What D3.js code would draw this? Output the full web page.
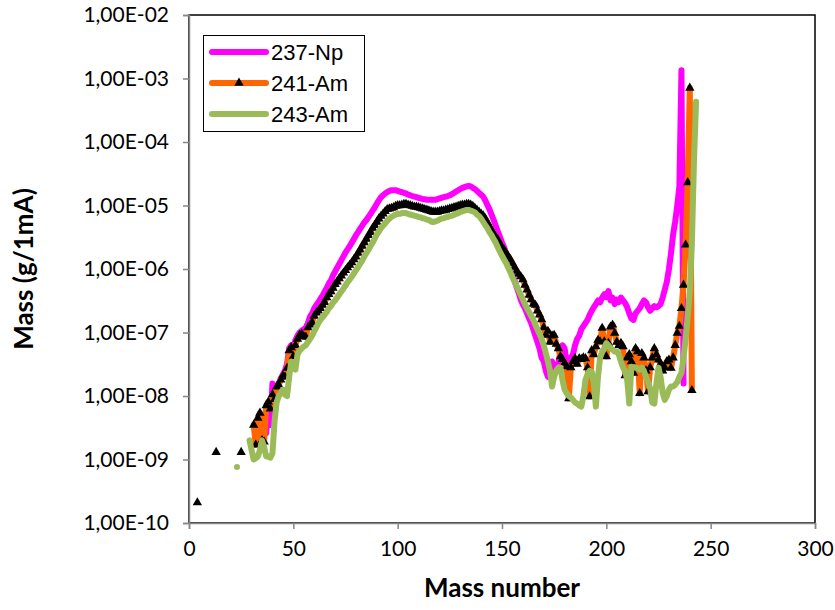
<!DOCTYPE html>
<html><head><meta charset="utf-8">
<script src="https://cdn.jsdelivr.net/npm/d3@7"></script>
<style>body{margin:0;background:#fff}svg{display:block}</style>
</head><body><svg id="chart" width="835" height="610"></svg>
<script>
// ---------- data ----------
const xTickValues = [0, 50, 100, 150, 200, 250, 300];
const yTickValues = [1e-10, 1e-9, 1e-8, 1e-7, 1e-6, 1e-5, 1e-4, 1e-3, 1e-2];
const yTickLabels = ["1,00E-10","1,00E-09","1,00E-08","1,00E-07","1,00E-06","1,00E-05","1,00E-04","1,00E-03","1,00E-02"];
const seriesNames = ["237-Np", "241-Am", "243-Am"];

// 237-Np: one value per mass number starting at np237Start
const np237Start = 33;
const np237Values = [
 2.8e-9, 4.5e-9, 3.5e-9, 2.5e-9, 2.6e-9, 6.3e-9, 3.5e-9, 1.58e-8, 1.0e-8, 1.41e-8,
 1.58e-8, 1.9e-8, 2.2e-8, 2.5e-8, 3.2e-8, 5.6e-8, 6.3e-8, 5.6e-8, 7.6e-8, 8.9e-8,
 1.0e-7, 1.07e-7, 1.12e-7, 1.2e-7, 1.41e-7, 1.78e-7, 2.0e-7, 2.4e-7, 2.7e-7, 3.0e-7,
 3.4e-7, 3.8e-7, 4.4e-7, 5.0e-7, 5.9e-7, 6.6e-7, 7.9e-7, 9.1e-7, 1.05e-6, 1.2e-6,
 1.38e-6, 1.58e-6, 1.82e-6, 2.04e-6, 2.3e-6, 2.6e-6, 2.95e-6, 3.4e-6, 3.8e-6, 4.3e-6,
 4.8e-6, 5.4e-6, 5.9e-6, 6.6e-6, 7.4e-6, 8.3e-6, 9.3e-6, 1.07e-5, 1.2e-5, 1.35e-5,
 1.45e-5, 1.55e-5, 1.62e-5, 1.7e-5, 1.74e-5, 1.74e-5, 1.74e-5, 1.7e-5, 1.66e-5, 1.62e-5,
 1.58e-5, 1.55e-5, 1.48e-5, 1.45e-5, 1.41e-5, 1.38e-5, 1.35e-5, 1.32e-5, 1.29e-5, 1.26e-5,
 1.26e-5, 1.23e-5, 1.23e-5, 1.23e-5, 1.23e-5, 1.23e-5, 1.26e-5, 1.29e-5, 1.32e-5, 1.35e-5,
 1.38e-5, 1.41e-5, 1.45e-5, 1.51e-5, 1.58e-5, 1.66e-5, 1.74e-5, 1.82e-5, 1.9e-5, 1.95e-5,
 2.0e-5, 2.04e-5, 2.0e-5, 1.9e-5, 1.82e-5, 1.7e-5, 1.58e-5, 1.48e-5, 1.38e-5, 1.2e-5,
 1.02e-5, 8.7e-6, 7.2e-6, 5.9e-6, 4.8e-6, 3.9e-6, 3.2e-6, 2.6e-6, 2.2e-6, 1.74e-6,
 1.35e-6, 1.05e-6, 8.3e-7, 6.6e-7, 5.2e-7, 4.2e-7, 3.3e-7, 2.75e-7, 2.4e-7, 2.0e-7,
 1.66e-7, 1.41e-7, 1.12e-7, 8.9e-8, 7.1e-8, 5.6e-8, 4.0e-8, 3.5e-8, 2.5e-8, 2.0e-8,
 2.2e-8, 3.5e-8, 2.8e-8, 2.5e-8, 3.2e-8, 5.0e-8, 6.3e-8, 5.6e-8, 3.5e-8, 2.8e-8,
 4.0e-8, 4.5e-8, 6.3e-8, 7.9e-8, 8.9e-8, 1.12e-7, 1.26e-7, 1.41e-7, 1.58e-7, 1.9e-7,
 2.2e-7, 2.5e-7, 2.8e-7, 3.2e-7, 3.0e-7, 3.55e-7, 4.0e-7, 3.6e-7, 4.5e-7, 3.2e-7,
 3.55e-7, 2.8e-7, 3.3e-7, 3.0e-7, 3.55e-7, 3.2e-7, 2.9e-7, 2.5e-7, 2.0e-7, 1.66e-7,
 1.58e-7, 2.0e-7, 2.2e-7, 2.4e-7, 2.8e-7, 3.2e-7, 3.0e-7, 2.5e-7, 2.2e-7, 2.4e-7,
 2.6e-7, 2.5e-7, 2.6e-7, 2.8e-7, 3.55e-7, 4.7e-7, 6.3e-7, 1.0e-6, 1.78e-6, 3.5e-6,
 5.6e-6, 1.0e-5, 2.0e-5, 1.35e-3, 1.58e-8
];

// 241-Am
const am241IsolatedMass = [4, 13, 25];
const am241IsolatedValues = [2.1e-10, 1.3e-9, 1.3e-9];
const am241Start = 31;
const am241Values = [
 3.5e-9, 1.7e-9, 4.5e-9, 5.4e-9, 2.0e-9, 1.9e-9, 7.1e-9, 8.1e-9, 6.3e-9, 1.05e-8,
 8.9e-9, 1.4e-8, 1.5e-8, 1.8e-8, 2.1e-8, 2.0e-8, 2.75e-8, 5.2e-8, 5.8e-8, 4.2e-8,
 6.3e-8, 7.9e-8, 9.1e-8, 9.5e-8, 8.7e-8, 8.5e-8, 1.2e-7, 1.32e-7, 1.45e-7, 1.82e-7,
 2.04e-7, 2.19e-7, 2.4e-7, 2.7e-7, 3.0e-7, 3.55e-7, 4.0e-7, 4.4e-7, 5.0e-7, 5.75e-7,
 6.3e-7, 7.1e-7, 7.8e-7, 8.7e-7, 9.5e-7, 1.05e-6, 1.15e-6, 1.26e-6, 1.41e-6, 1.55e-6,
 1.78e-6, 2.0e-6, 2.3e-6, 2.6e-6, 2.95e-6, 3.4e-6, 3.8e-6, 4.4e-6, 4.9e-6, 5.5e-6,
 6.2e-6, 6.8e-6, 7.4e-6, 8.1e-6, 8.7e-6, 8.9e-6, 9.1e-6, 9.3e-6, 9.8e-6, 1.0e-5,
 1.0e-5, 1.02e-5, 1.05e-5, 1.05e-5, 1.02e-5, 1.0e-5, 9.8e-6, 9.5e-6, 9.5e-6, 9.3e-6,
 9.1e-6, 8.9e-6, 8.7e-6, 8.5e-6, 8.3e-6, 8.1e-6, 7.9e-6, 7.9e-6, 7.9e-6, 8.1e-6,
 8.3e-6, 8.3e-6, 8.5e-6, 8.7e-6, 8.9e-6, 9.1e-6, 9.3e-6, 9.5e-6, 9.8e-6, 1.0e-5,
 1.02e-5, 1.02e-5, 1.05e-5, 1.05e-5, 1.02e-5, 9.8e-6, 9.1e-6, 8.5e-6, 7.9e-6, 7.4e-6,
 6.9e-6, 6.2e-6, 5.4e-6, 4.7e-6, 4.1e-6, 3.6e-6, 3.2e-6, 2.9e-6, 2.5e-6, 2.2e-6,
 2.0e-6, 1.78e-6, 1.58e-6, 1.41e-6, 1.23e-6, 1.07e-6, 9.3e-7, 8.3e-7, 7.6e-7, 6.8e-7,
 5.6e-7, 4.7e-7, 3.9e-7, 3.3e-7, 2.8e-7, 2.7e-7, 2.2e-7, 1.9e-7, 1.6e-7, 1.2e-7,
 9.1e-8, 1.05e-7, 7.1e-8, 8.9e-8, 9.1e-8, 6.6e-8, 5.6e-8, 4.2e-8, 3.8e-8, 3.3e-8,
 2.9e-8, 9.1e-9, 2.8e-8, 3.5e-8, 3.9e-8, 3.2e-8, 3.9e-8, 3.8e-8, 4.0e-8, 3.9e-8,
 2.8e-8, 9.8e-9, 5.2e-8, 4.5e-8, 6.0e-8, 7.6e-8, 7.2e-8, 1.17e-7, 7.2e-8, 4.2e-8,
 6.8e-8, 1.23e-7, 1.32e-7, 9.8e-8, 7.1e-8, 6.3e-8, 6.8e-8, 6.0e-8, 2.1e-8, 4.0e-8,
 4.5e-8, 3.5e-8, 2.3e-8, 5.6e-8, 5.0e-8, 1.1e-8, 4.7e-8, 4.0e-8, 2.5e-8, 1.17e-8,
 2.8e-8, 4.0e-8, 5.6e-8, 4.5e-8, 3.7e-8, 3.2e-8, 2.5e-8, 2.8e-8, 3.5e-8, 3.7e-8,
 2.75e-8, 4.0e-8, 6.3e-8, 9.8e-8, 1.26e-7, 2.4e-7, 5.6e-7, 2.4e-6, 2.3e-5, 7.1e-4,
 1.23e-8
];

// 243-Am
const am243IsolatedMass = [23];
const am243IsolatedValues = [7.6e-10];
const am243Start = 29;
const am243Values = [
 2.0e-9, 1.41e-9, 1.0e-9, 1.05e-9, 1.12e-9, 1.41e-9, 2.0e-9, 1.58e-9, 1.12e-9, 1.12e-9,
 1.07e-9, 1.26e-9, 4.0e-9, 7.9e-9, 1.0e-8, 1.12e-8, 1.26e-8, 1.05e-8, 1.0e-8, 2.0e-8,
 3.5e-8, 2.8e-8, 2.6e-8, 4.5e-8, 5.2e-8, 5.6e-8, 6.0e-8, 6.3e-8, 7.1e-8, 7.9e-8,
 8.9e-8, 1.05e-7, 1.2e-7, 1.41e-7, 1.58e-7, 1.74e-7, 1.9e-7, 2.1e-7, 2.4e-7, 2.6e-7,
 2.95e-7, 3.2e-7, 3.55e-7, 4.0e-7, 4.4e-7, 4.9e-7, 5.5e-7, 6.2e-7, 6.8e-7, 7.6e-7,
 8.5e-7, 9.5e-7, 1.07e-6, 1.2e-6, 1.35e-6, 1.58e-6, 1.78e-6, 2.0e-6, 2.3e-6, 2.6e-6,
 3.0e-6, 3.5e-6, 3.9e-6, 4.4e-6, 4.8e-6, 5.2e-6, 5.75e-6, 6.2e-6, 6.6e-6, 6.9e-6,
 7.2e-6, 7.4e-6, 7.4e-6, 7.6e-6, 7.6e-6, 7.6e-6, 7.4e-6, 7.2e-6, 7.1e-6, 6.9e-6,
 6.8e-6, 6.6e-6, 6.5e-6, 6.3e-6, 6.2e-6, 6.0e-6, 5.9e-6, 5.6e-6, 5.5e-6, 5.6e-6,
 5.75e-6, 6.0e-6, 6.2e-6, 6.3e-6, 6.5e-6, 6.6e-6, 6.8e-6, 6.9e-6, 7.1e-6, 7.4e-6,
 7.6e-6, 7.9e-6, 8.1e-6, 8.3e-6, 8.5e-6, 8.5e-6, 8.3e-6, 8.1e-6, 7.8e-6, 7.2e-6,
 6.8e-6, 6.2e-6, 5.5e-6, 4.9e-6, 4.4e-6, 3.8e-6, 3.4e-6, 2.95e-6, 2.6e-6, 2.2e-6,
 1.86e-6, 1.62e-6, 1.41e-6, 1.23e-6, 1.05e-6, 8.9e-7, 7.4e-7, 6.3e-7, 5.4e-7, 4.6e-7,
 3.9e-7, 3.3e-7, 2.8e-7, 2.4e-7, 2.1e-7, 1.82e-7, 1.58e-7, 1.32e-7, 1.12e-7, 9.5e-8,
 7.9e-8, 6.3e-8, 4.7e-8, 3.5e-8, 2.5e-8, 1.41e-8, 2.0e-8, 2.5e-8, 2.8e-8, 2.8e-8,
 1.78e-8, 1.26e-8, 1.1e-8, 1.0e-8, 9.5e-9, 8.7e-9, 7.9e-9, 7.6e-9, 7.1e-9, 6.8e-9,
 1.0e-8, 1.78e-8, 2.2e-8, 2.5e-8, 2.4e-8, 1.58e-8, 6.8e-9, 2.0e-8, 4.0e-8, 5.0e-8,
 5.6e-8, 6.8e-8, 6.3e-8, 5.6e-8, 5.4e-8, 5.0e-8, 5.0e-8, 4.5e-8, 3.5e-8, 2.8e-8,
 2.5e-8, 1.78e-8, 7.6e-9, 2.9e-8, 2.8e-8, 2.8e-8, 2.75e-8, 2.6e-8, 2.8e-8, 2.5e-8,
 2.0e-8, 1.66e-8, 1.32e-8, 7.9e-9, 7.6e-9, 1.58e-8, 2.8e-8, 2.0e-8, 1.12e-8, 8.7e-9,
 1.0e-8, 1.26e-8, 1.41e-8, 1.41e-8, 1.5e-8, 1.66e-8, 2.0e-8, 2.3e-8, 4.0e-8, 7.9e-8,
 1.78e-7, 4.5e-7, 2.5e-6, 5.0e-5, 4.3e-4
];

// ---------- chart ----------
const colors = {np: "#FF00FF", am241: "#FF6600", am243: "#9BBB59"};
const svg = d3.select("#chart");
const plot = {left: 189, right: 815, top: 15, bottom: 523};

const x = d3.scaleLinear().domain([0, 300]).range([plot.left, plot.right]);
const y = d3.scaleLog().domain([1e-10, 1e-2]).range([plot.bottom, plot.top]);

const toPts = (start, vals) => vals.map((v, i) => ({m: start + i, v}));
const toPtsM = (ms, vals) => vals.map((v, i) => ({m: ms[i], v}));

const npPts = toPts(np237Start, np237Values);
const am241Pts = toPts(am241Start, am241Values);
const am241Iso = toPtsM(am241IsolatedMass, am241IsolatedValues);
const am243Pts = toPts(am243Start, am243Values);
const am243Iso = toPtsM(am243IsolatedMass, am243IsolatedValues);

// plot-area border (top/right visible)
svg.append("rect")
  .attr("x", plot.left).attr("y", plot.top)
  .attr("width", plot.right - plot.left).attr("height", plot.bottom - plot.top)
  .attr("fill", "none").attr("stroke", "#000").attr("stroke-width", 1.5);

const tickFont = "Lato, 'Open Sans', sans-serif";
// axes
const yAxis = d3.axisLeft(y).tickValues(yTickValues)
  .tickFormat((d, i) => yTickLabels[i]).tickSize(6).tickPadding(14);
const gy = svg.append("g").attr("transform", `translate(${plot.left},0)`).call(yAxis);
const xAxis = d3.axisBottom(x).tickValues(xTickValues).tickSize(6).tickPadding(12);
const gx = svg.append("g").attr("transform", `translate(0,${plot.bottom})`).call(xAxis);
[gx, gy].forEach(g => {
  g.select(".domain").attr("stroke", "#868686").attr("stroke-width", 1.5);
  g.selectAll(".tick line").attr("stroke", "#868686").attr("stroke-width", 1.5);
  g.selectAll(".tick text").attr("fill", "#000")
    .style("font-family", tickFont).style("font-size", "21px");
});

// titles
svg.append("text").attr("x", (plot.left + plot.right) / 2).attr("y", 597)
  .attr("text-anchor", "middle").style("font-family", tickFont)
  .style("font-weight", "bold").style("font-size", "26px").text("Mass number");
svg.append("text")
  .attr("transform", `translate(33,${(plot.top + plot.bottom) / 2}) rotate(-90)`)
  .attr("text-anchor", "middle").style("font-family", tickFont)
  .style("font-weight", "bold").style("font-size", "26px").text("Mass (g/1mA)");

// lines
const line = d3.line().x(d => x(d.m)).y(d => y(d.v));
const lw = 6;
function drawLine(pts, color) {
  svg.append("path").datum(pts).attr("d", line)
    .attr("fill", "none").attr("stroke", color).attr("stroke-width", lw)
    .attr("stroke-linejoin", "round").attr("stroke-linecap", "round");
}
const tri = d3.symbol().type(d3.symbolTriangle).size(38);

drawLine(npPts, colors.np);
drawLine(am241Pts, colors.am241);
svg.append("g").selectAll("path").data(am241Pts.concat(am241Iso)).join("path")
  .attr("d", tri).attr("transform", d => `translate(${x(d.m)},${y(d.v)})`)
  .attr("fill", "#000");
drawLine(am243Pts, colors.am243);
am243Iso.forEach(p => drawLine([p], colors.am243));

// legend
const lg = svg.append("g");
lg.append("rect").attr("x", 203.5).attr("y", 35.5).attr("width", 161).attr("height", 96)
  .attr("fill", "#fff").attr("stroke", "#000").attr("stroke-width", 1);
const legendColors = [colors.np, colors.am241, colors.am243];
seriesNames.forEach((name, i) => {
  const cy = 52 + i * 31;
  lg.append("line").attr("x1", 212).attr("x2", 266).attr("y1", cy).attr("y2", cy)
    .attr("stroke", legendColors[i]).attr("stroke-width", 6).attr("stroke-linecap", "round");
  if (i === 1) {
    lg.append("path").attr("d", tri).attr("transform", `translate(239,${cy})`).attr("fill", "#000");
  }
  lg.append("text").attr("x", 271).attr("y", cy).attr("dy", "0.36em")
    .style("font-family", "'Liberation Sans', Arial, sans-serif").style("font-size", "22px")
    .text(name);
});
</script>
</body></html>
